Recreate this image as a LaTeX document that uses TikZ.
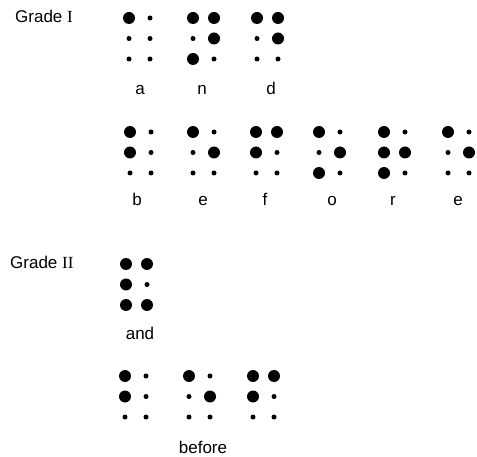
\documentclass[tikz,border=0pt]{standalone}
\usepackage{fontspec}
\setmainfont{Liberation Sans}
\newfontfamily\numfont{Liberation Serif}
\begin{document}
\begin{tikzpicture}[x=1pt,y=-1pt,
  bigdot/.style={circle,fill=black,inner sep=0pt,minimum size=12pt},
  smalldot/.style={circle,fill=black,inner sep=0pt,minimum size=5pt},
  lbl/.style={anchor=base,inner sep=0pt,font=\fontsize{17}{20}\selectfont},
  grade/.style={anchor=base west,inner sep=0pt,font=\fontsize{17}{20}\selectfont}]
\useasboundingbox (0,0) rectangle (477,457);
\newcommand\bcell[4]{%
  \foreach \f [count=\d] in {#4}{%
    \pgfmathtruncatemacro\cx{\d>3}%
    \pgfmathtruncatemacro\cy{mod(\d-1,3)}%
    \ifnum\f=1
      \node[bigdot] (#1-\d) at ({#2+21*\cx},{#3+20.5*\cy}) {};
    \else
      \node[smalldot] (#1-\d) at ({#2+21*\cx},{#3+20.5*\cy}) {};
    \fi
  }}
% Grade I
\node[grade] (g1) at (15,23) {Grade {\numfont I}};
\bcell{ca}{129}{18}{1,0,0,0,0,0}
\bcell{cn}{193}{18}{1,0,1,1,1,0}
\bcell{cd}{257}{18}{1,0,0,1,1,0}
\node[lbl] (la) at (140,95) {a};
\node[lbl] (ln) at (202,95) {n};
\node[lbl] (ld) at (271,95) {d};
\bcell{cb}{130}{132}{1,1,0,0,0,0}
\bcell{ce}{193}{132}{1,0,0,0,1,0}
\bcell{cf}{256}{132}{1,1,0,1,0,0}
\bcell{co}{319}{132}{1,0,1,0,1,0}
\bcell{cr}{384}{132}{1,1,1,0,1,0}
\bcell{cee}{448}{132}{1,0,0,0,1,0}
\node[lbl] (lb) at (137,206) {b};
\node[lbl] (le) at (203,206) {e};
\node[lbl] (lf) at (265,206) {f};
\node[lbl] (lo) at (332,206) {o};
\node[lbl] (lr) at (393,206) {r};
\node[lbl] (lee) at (458,206) {e};
% Grade II
\node[grade] (g2) at (10,269) {Grade {\numfont II}};
\bcell{cand}{126}{264}{1,1,1,1,0,1}
\node[lbl] (land) at (140,340) {and};
\bcell{bb}{125}{376}{1,1,0,0,0,0}
\bcell{be}{189}{376}{1,0,0,0,1,0}
\bcell{bf}{253}{376}{1,1,0,1,0,0}
\node[lbl] (lbefore) at (203,453) {before};
\end{tikzpicture}
\end{document}
